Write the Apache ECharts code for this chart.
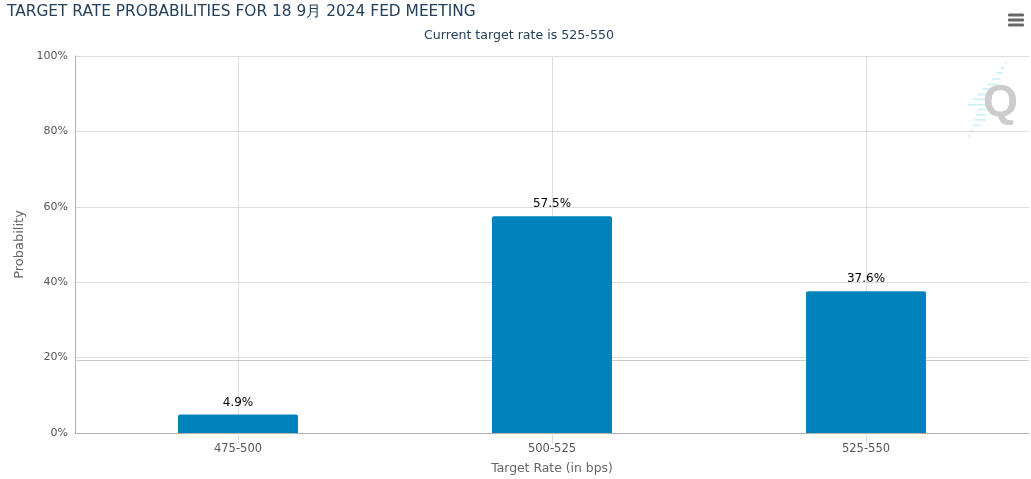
<!DOCTYPE html>
<html>
<head>
<meta charset="utf-8">
<style>
  html, body { margin: 0; padding: 0; background: #fff; }
  #chart { width: 1031px; height: 479px; }
</style>
<script src="https://cdn.jsdelivr.net/npm/echarts@6/dist/echarts.min.js"></script>
</head>
<body>
<div id="chart"></div>
<script>
var categories = ["475-500", "500-525", "525-550"];
var probabilities = [4.9, 57.5, 37.6];
var categorySlots = [0, 1, 2];
var extraRule = 19.4;
var titleText = "TARGET RATE PROBABILITIES FOR 18 9月 2024 FED MEETING";
var subtitleText = "Current target rate is 525-550";

var fontName = '"DejaVu Sans", sans-serif';
var myChart = echarts.init(document.getElementById("chart"), null, { renderer: "canvas" });

// watermark stripes behind the Q, [x0, x1, y] in page pixels
var stripes = [
  [1005.5, 1006.9, 63], [1000.7, 1004.1, 68], [996.3, 1003.1, 73], [991.9, 1000.7, 79],
  [987.8, 998, 84.4], [982.7, 994.6, 89], [977.6, 986, 94.6], [972.5, 986, 99.3],
  [968.1, 986, 104.8], [977.6, 986, 109.5], [975.9, 986, 115], [974.2, 986, 119.7],
  [972.5, 980.3, 125.2], [970.1, 974.2, 131], [968.1, 970.1, 136]
];

var graphics = stripes.map(function (s) {
  return {
    type: "rect",
    z: 0,
    silent: true,
    shape: { x: s[0], y: s[2] - 1, width: s[1] - s[0], height: 2 },
    style: { fill: "#d2f2fa" }
  };
});
graphics.push({
  type: "text",
  z: 1,
  silent: true,
  left: 983,
  top: 81,
  style: { text: "Q", fill: "#cccccc", font: 'bold 45px "Liberation Sans", sans-serif' }
});
// menu button
[15, 20, 25].forEach(function (y) {
  graphics.push({
    type: "rect",
    z: 5,
    silent: true,
    shape: { x: 1008, y: y - 1.5, width: 16, height: 3, r: 1 },
    style: { fill: "#666666" }
  });
});

myChart.setOption({
  animation: false,
  backgroundColor: "#ffffff",
  textStyle: { fontFamily: fontName },
  title: [
    {
      text: titleText,
      left: 7,
      top: 4,
      padding: 0,
      textStyle: { fontFamily: fontName, fontSize: 15.4, fontWeight: "normal", color: "#24405c" }
    },
    {
      text: subtitleText,
      left: 519,
      top: 29,
      padding: 0,
      textAlign: "center",
      textStyle: { fontFamily: fontName, fontSize: 12.6, fontWeight: "normal", color: "#24405c" }
    }
  ],
  graphic: graphics,
  grid: { left: 75, right: 2, top: 56, bottom: 46, outerBoundsMode: "none" },
  xAxis: {
    type: "value",
    min: -0.5191,
    max: 2.5191,
    name: "Target Rate (in bps)",
    nameLocation: "middle",
    nameGap: 30,
    nameTextStyle: { color: "#666666", fontSize: 12.4, fontFamily: fontName },
    axisLine: { onZero: false, lineStyle: { color: "#b0b0b0", width: 1 } },
    axisTick: { show: true, length: 10, customValues: categorySlots, lineStyle: { color: "#dddddd" } },
    axisLabel: {
      customValues: categorySlots,
      color: "#555555",
      fontSize: 11.5,
      margin: 10,
      fontFamily: fontName,
      formatter: function (v) { return categories[v]; }
    },
    splitLine: { show: true, lineStyle: { color: "#dddddd", width: 1 } }
  },
  yAxis: {
    type: "value",
    min: 0,
    max: 100,
    interval: 20,
    name: "Probability",
    nameLocation: "middle",
    nameGap: 49,
    nameTextStyle: { color: "#666666", fontSize: 13, fontFamily: fontName },
    axisLine: { show: true, onZero: false, lineStyle: { color: "#b0b0b0", width: 1 } },
    axisTick: { show: false },
    axisLabel: {
      color: "#555555",
      fontSize: 11,
      margin: 7,
      padding: [2, 0, 0, 0],
      fontFamily: fontName,
      formatter: "{value}%"
    },
    splitLine: { show: true, lineStyle: { color: "#dddddd", width: 1 } }
  },
  series: [
    {
      type: "bar",
      barWidth: 120,
      data: categorySlots.map(function (slot, i) { return [slot, probabilities[i]]; }),
      itemStyle: { color: "#0083bd", borderRadius: [2, 2, 0, 0] },
      label: {
        show: true,
        position: "top",
        distance: 6,
        color: "#000000",
        fontSize: 12,
        fontFamily: fontName,
        formatter: function (p) { return p.value[1] + "%"; }
      },
      markLine: {
        z: 1,
        silent: true,
        symbol: "none",
        label: { show: false },
        lineStyle: { color: "#cccccc", width: 1, type: "solid" },
        data: [{ yAxis: extraRule }]
      }
    }
  ]
});
</script>
</body>
</html>
